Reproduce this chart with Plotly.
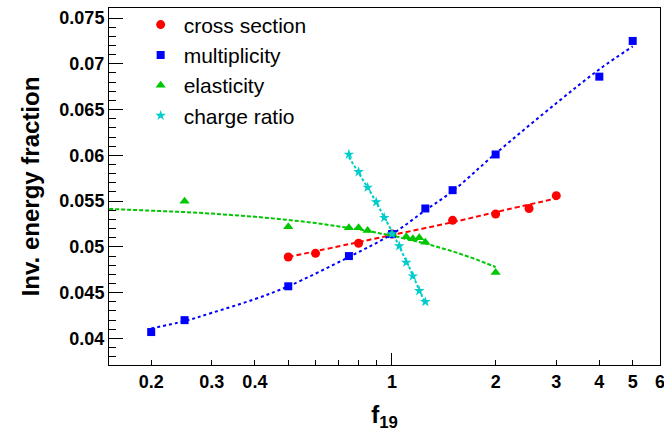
import plotly.graph_objects as go

# ---- data ----
cs_x = [0.5, 0.6, 0.8, 1.0, 1.5, 2.0, 2.5, 3.0]
cs_y = [0.0489, 0.0493, 0.0504, 0.0514, 0.0529, 0.0536, 0.0542, 0.0556]
cs_fit_x = [0.5, 0.75, 1.0, 1.5, 2.0, 3.0]
cs_fit_y = [0.0489, 0.0503, 0.0513, 0.0527, 0.0538, 0.0553]

mu_x = [0.2, 0.25, 0.5, 0.75, 1.0, 1.25, 1.5, 2.0, 4.0, 5.0]
mu_y = [0.0407, 0.0420, 0.0457, 0.0490, 0.0514, 0.0542, 0.0562, 0.0601, 0.0686, 0.0725]
mu_fit_x = [0.2, 0.25, 0.3, 0.4, 0.5, 0.75, 1.0, 1.25, 1.5, 2.0, 3.0, 4.0, 5.0]
mu_fit_y = [0.0411, 0.0419, 0.0428, 0.0443, 0.0457, 0.0489, 0.0514, 0.0540, 0.0561, 0.0602, 0.0657, 0.0694, 0.0719]

el_x = [0.25, 0.5, 0.75, 0.8, 0.85, 1.0, 1.1, 1.15, 1.2, 1.25, 2.0]
el_y = [0.0550, 0.0522, 0.0521, 0.0521, 0.0518, 0.0514, 0.0511, 0.0509, 0.0510, 0.0505, 0.0472]
el_fit_x = [0.151, 0.2, 0.25, 0.3, 0.4, 0.5, 0.6, 0.8, 1.0, 1.25, 1.5, 1.75, 2.0]
el_fit_y = [0.05415, 0.05398, 0.05381, 0.05364, 0.05330, 0.05295, 0.05261, 0.05192, 0.05124, 0.05038, 0.04952, 0.04866, 0.0478]

cr_x = [0.75, 0.8, 0.85, 0.9, 0.95, 1.0, 1.05, 1.1, 1.15, 1.2, 1.25]
cr_y = [0.0601, 0.0582, 0.0565, 0.0549, 0.0532, 0.0514, 0.0501, 0.0483, 0.0468, 0.0452, 0.0440]
cr_fit_x = [0.75, 0.875, 1.0, 1.125, 1.25]
cr_fit_y = [0.0598, 0.0557, 0.0517, 0.0477, 0.0438]

x_labels = [0.2, 0.3, 0.4, 1, 2, 3, 4, 5, 6]
x_minor = [0.5, 0.6, 0.7, 0.8, 0.9]
x_long = [1]

RED, BLUE, GREEN, CYAN = "#ff0000", "#0000ff", "#00c800", "#00cccc"
FONT = "Liberation Sans, Arial, Helvetica, sans-serif"

fig = go.Figure()

# fit lines
for fx, fy, col, dash, shape in [
    (cs_fit_x, cs_fit_y, RED, "5px,3px", "spline"),
    (mu_fit_x, mu_fit_y, BLUE, "3px,3px", "spline"),
    (el_fit_x, el_fit_y, GREEN, "4px,2px", "linear"),
    (cr_fit_x, cr_fit_y, CYAN, "3px,2px", "linear"),
]:
    fig.add_trace(go.Scatter(x=fx, y=fy, mode="lines", line_shape=shape,
                             line=dict(color=col, width=2, dash=dash),
                             showlegend=False, hoverinfo="skip"))

# markers
fig.add_trace(go.Scatter(x=cs_x, y=cs_y, mode="markers", name="cross section",
                         marker=dict(symbol="circle", size=9, color=RED)))
fig.add_trace(go.Scatter(x=mu_x, y=mu_y, mode="markers", name="multiplicity",
                         marker=dict(symbol="square", size=8, color=BLUE)))
fig.add_trace(go.Scatter(x=el_x, y=el_y, mode="markers", name="elasticity",
                         marker=dict(symbol="triangle-up", size=9, color=GREEN)))
fig.add_trace(go.Scatter(x=cr_x, y=cr_y, mode="markers", name="charge ratio",
                         marker=dict(symbol="star", size=8, color=CYAN)))

# invisible trace for the overlay axis carrying the long tick at 1
fig.add_trace(go.Scatter(x=[1], y=[0.05], xaxis="x2", mode="markers",
                         marker=dict(opacity=0), showlegend=False, hoverinfo="skip"))

xr = [-0.8215, 0.7782]
fig.update_layout(
    width=664, height=434,
    margin=dict(l=109, r=4, t=8, b=69, autoexpand=False),
    paper_bgcolor="white", plot_bgcolor="white",
    font=dict(family=FONT, color="black"),
    showlegend=True,
    legend=dict(x=0.052, y=1.01, xanchor="left", yanchor="top",
                bgcolor="rgba(0,0,0,0)", borderwidth=0,
                font=dict(size=21, family=FONT), itemwidth=36,
                tracegroupgap=0),
    xaxis=dict(type="log", range=xr, showgrid=False, zeroline=False,
               automargin=False,
               showline=True, linecolor="black", linewidth=1, mirror=True,
               ticks="inside", ticklen=5, tickcolor="black",
               tickmode="array", tickvals=x_labels,
               ticktext=[str(v) for v in x_labels],
               ticklabeloverflow="allow",
               tickfont=dict(size=18, weight="bold", family=FONT),
               minor=dict(tickmode="array", tickvals=x_minor, ticks="inside",
                          ticklen=5, tickcolor="black", showgrid=False),
               title=dict(text="f<sub>19</sub>", font=dict(size=24, weight="bold", family=FONT),
                          standoff=15)),
    xaxis2=dict(type="log", range=xr, overlaying="x", anchor="y", side="bottom",
                automargin=False,
                showgrid=False, zeroline=False, showline=False,
                ticks="inside", ticklen=12, tickcolor="black",
                tickmode="array", tickvals=x_long, showticklabels=False),
    yaxis=dict(range=[0.0371, 0.0761], showgrid=False, zeroline=False,
               automargin=False,
               showline=True, linecolor="black", linewidth=1, mirror=True,
               ticks="inside", ticklen=14, tickcolor="black",
               tickmode="linear", tick0=0.04, dtick=0.005,
               tickfont=dict(size=18, weight="bold", family=FONT),
               minor=dict(tick0=0.04, dtick=0.001, ticks="inside", ticklen=7,
                          tickcolor="black", showgrid=False),
               title=dict(text="Inv. energy fraction",
                          font=dict(size=24, weight="bold", family=FONT),
                          standoff=12)),
)

fig.write_html("out.html")
